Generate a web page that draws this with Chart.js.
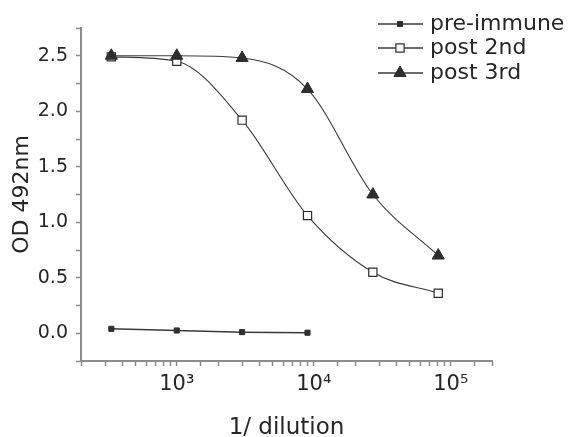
<!DOCTYPE html>
<html>
<head>
<meta charset="utf-8">
<script src="https://cdn.jsdelivr.net/npm/chart.js@4/dist/chart.umd.min.js"></script>
<style>
  html, body { margin: 0; padding: 0; background: #fff; }
  #wrap { width: 574px; height: 437px; }
</style>
</head>
<body>
<div id="wrap"><canvas id="c" width="574" height="437"></canvas></div>
<script>
// ---- data ----
const dilutions = [333, 1000, 3000, 9000, 27000, 81000];
const preImmune = [0.04, 0.025, 0.01, 0.005];
const post2nd   = [2.49, 2.45, 1.92, 1.06, 0.55, 0.36];
const post3rd   = [2.50, 2.50, 2.48, 2.20, 1.25, 0.70];
const seriesLabels = ['pre-immune', 'post 2nd', 'post 3rd'];
const yTickLabels = ['0.0', '0.5', '1.0', '1.5', '2.0', '2.5'];
const xTickLabels = ['10³', '10⁴', '10⁵'];

const toPts = (vals) => vals.map((v, i) => ({ x: dilutions[i], y: v }));

const LINE = '#3a3a3a';
const MARK = '#2e2e2e';
const AXIS = '#8c8c8c';
const TEXT = '#262626';
const FONT = 'DejaVu Sans';

const legendPlugin = {
  id: 'customLegend',
  afterDraw(chart) {
    const ctx = chart.ctx;
    const rows = [24, 48, 73];
    const x0 = 378, x1 = 423, xm = 400, xt = 430;
    chart.data.datasets.forEach((ds, i) => {
      const y = rows[i];
      ctx.save();
      ctx.strokeStyle = ds.borderColor;
      ctx.lineWidth = 1.5;
      ctx.beginPath();
      ctx.moveTo(x0, y); ctx.lineTo(x1, y);
      ctx.stroke();
      ctx.fillStyle = ds.pointBackgroundColor;
      ctx.strokeStyle = ds.pointBorderColor;
      ctx.lineWidth = ds.pointBorderWidth;
      Chart.helpers.drawPoint(ctx, {
        pointStyle: ds.pointStyle, radius: ds.pointRadius, rotation: 0,
        borderWidth: ds.pointBorderWidth
      }, xm, y);
      ctx.fillStyle = TEXT;
      ctx.font = '22px "' + FONT + '"';
      ctx.textBaseline = 'middle';
      ctx.textAlign = 'left';
      ctx.fillText(ds.label, xt, y);
      ctx.restore();
    });
  }
};

new Chart(document.getElementById('c'), {
  type: 'line',
  data: {
    datasets: [
      {
        label: seriesLabels[0],
        data: toPts(preImmune),
        borderColor: LINE, borderWidth: 1.5,
        pointStyle: 'rect', pointRadius: 3.6,
        pointBackgroundColor: MARK, pointBorderColor: MARK, pointBorderWidth: 1,
        tension: 0, order: 1
      },
      {
        label: seriesLabels[1],
        data: toPts(post2nd),
        borderColor: LINE, borderWidth: 1.1,
        pointStyle: 'rect', pointRadius: 5.8,
        pointBackgroundColor: '#ffffff', pointBorderColor: MARK, pointBorderWidth: 1.2,
        cubicInterpolationMode: 'monotone', order: 1
      },
      {
        label: seriesLabels[2],
        data: toPts(post3rd),
        borderColor: LINE, borderWidth: 1.1,
        pointStyle: 'triangle', pointRadius: 7,
        pointBackgroundColor: MARK, pointBorderColor: MARK, pointBorderWidth: 1,
        cubicInterpolationMode: 'monotone', order: 0
      }
    ]
  },
  options: {
    responsive: false,
    animation: false,
    events: [],
    layout: { padding: { top: 28, right: 82, left: 0, bottom: 0 } },
    plugins: { legend: { display: false }, tooltip: { enabled: false } },
    scales: {
      x: {
        type: 'logarithmic',
        min: 200, max: 200000,
        afterFit(s) { s.height = 76; },
        border: { display: true, color: AXIS, width: 2 },
        grid: { drawOnChartArea: false, drawTicks: true, tickLength: 5, color: AXIS, tickWidth: 1.5 },
        ticks: {
          autoSkip: false, maxRotation: 0, minRotation: 0, padding: 6,
          color: TEXT, font: { family: FONT, size: 21 },
          callback(v) {
            const l = Math.log10(v);
            if (Math.abs(l - Math.round(l)) < 1e-9) {
              const idx = Math.round(l) - 3;
              return xTickLabels[idx] !== undefined ? xTickLabels[idx] : '';
            }
            return '';
          }
        },
        title: {
          display: true, text: '1/ dilution', color: TEXT,
          font: { family: FONT, size: 23, lineHeight: 0.75 }, padding: { top: 0, bottom: 0 }
        }
      },
      y: {
        min: -0.25, max: 2.75,
        afterFit(s) { s.width = 81; },
        border: { display: true, color: AXIS, width: 2 },
        grid: { drawOnChartArea: false, drawTicks: true, tickLength: 5, color: AXIS, tickWidth: 1.5 },
        ticks: {
          stepSize: 0.25, padding: 8, color: TEXT, font: { family: FONT, size: 19 },
          callback(v) {
            const k = v * 2;
            if (Math.abs(k - Math.round(k)) < 1e-6 && Math.round(k) >= 0) {
              return yTickLabels[Math.round(k)] || '';
            }
            return '';
          }
        },
        title: {
          display: true, text: 'OD 492nm', color: TEXT,
          font: { family: FONT, size: 22, lineHeight: 1.2 }, padding: { top: 9, bottom: 0 }
        }
      }
    }
  },
  plugins: [legendPlugin]
});
</script>
</body>
</html>
